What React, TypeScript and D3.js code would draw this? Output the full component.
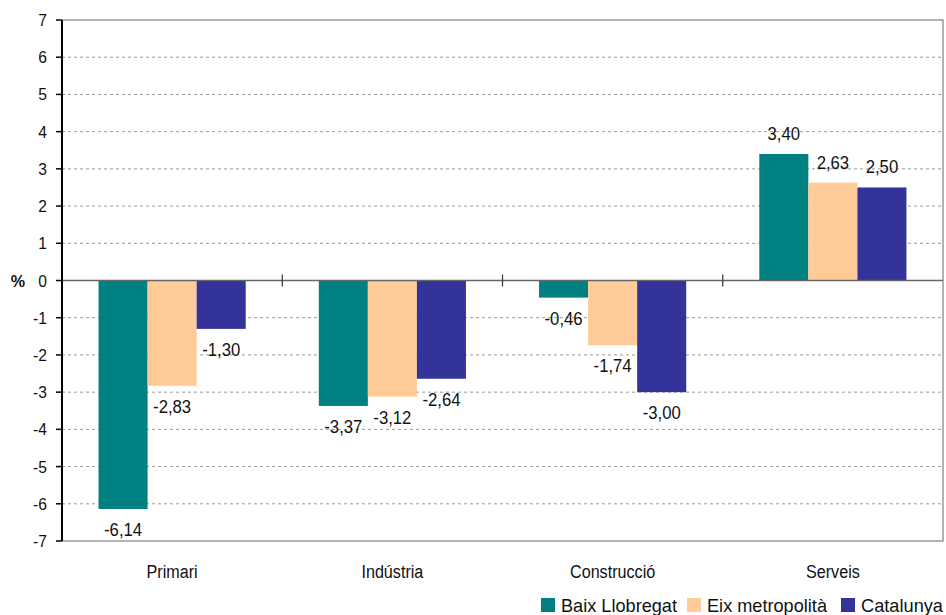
import React, { useEffect, useRef } from 'react';
import * as d3 from 'd3';

const categories = ['Primari', 'Indústria', 'Construcció', 'Serveis'];
const seriesNames = ['Baix Llobregat', 'Eix metropolità', 'Catalunya'];
const baixLlobregat = [-6.14, -3.37, -0.46, 3.4];
const eixMetropolita = [-2.83, -3.12, -1.74, 2.63];
const catalunya = [-1.3, -2.64, -3.0, 2.5];
const yTicks = [-7, -6, -5, -4, -3, -2, -1, 0, 1, 2, 3, 4, 5, 6, 7];
const colors = ['#008080', '#FFCC99', '#333399'];

const FONT = '"Liberation Sans", Arial, sans-serif';

// text squeezed horizontally to mimic a narrow typeface
function narrowText(
  g: d3.Selection<SVGGElement, unknown, null, undefined>,
  x: number, y: number, txt: string, size: number, sx: number,
  anchor = 'middle', weight = 'normal'
) {
  return g.append('text')
    .attr('transform', `translate(${x},${y}) scale(${sx},1)`)
    .attr('text-anchor', anchor)
    .attr('font-family', FONT)
    .attr('font-size', size)
    .attr('font-weight', weight)
    .attr('fill', '#111')
    .text(txt);
}

const App: React.FC = () => {
  const svgRef = useRef<SVGSVGElement>(null);

  useEffect(() => {
    if (!svgRef.current) return;
    const m = { left: 62, right: 943, top: 20, bottom: 541 };

    const svg = d3.select(svgRef.current);
    svg.selectAll('*').remove();
    const root = svg.append('g');

    const x = d3.scaleBand<string>().domain(categories).range([m.left, m.right]);
    const y = d3.scaleLinear().domain([-7, 7]).range([m.bottom, m.top]);
    const inner = d3.scaleBand<number>()
      .domain([0, 1, 2])
      .range([0, x.bandwidth()])
      .paddingOuter(0.745)
      .paddingInner(0);

    const series = [baixLlobregat, eixMetropolita, catalunya];
    const fmt = (v: number) => v.toFixed(2).replace('.', ',');

    // grid
    root.append('g')
      .selectAll('line')
      .data(yTicks.filter(t => t !== 0 && t !== 7 && t !== -7))
      .join('line')
      .attr('x1', m.left)
      .attr('x2', m.right)
      .attr('y1', d => y(d))
      .attr('y2', d => y(d))
      .attr('stroke', '#999')
      .attr('stroke-dasharray', '3,3');

    // frame
    root.append('path')
      .attr('d', `M${m.left},${m.top}H${m.right}V${m.bottom}H${m.left}`)
      .attr('fill', 'none')
      .attr('stroke', '#999')
      .attr('stroke-width', 1.5);

    // bars
    series.forEach((vals, si) => {
      root.append('g')
        .selectAll('rect')
        .data(vals)
        .join('rect')
        .attr('x', (_, i) => x(categories[i])! + inner(si)!)
        .attr('width', inner.bandwidth())
        .attr('y', d => y(Math.max(0, d)))
        .attr('height', d => Math.abs(y(d) - y(0)))
        .attr('fill', colors[si]);
    });

    // zero line with category ticks
    root.append('line')
      .attr('x1', m.left).attr('x2', m.right)
      .attr('y1', y(0)).attr('y2', y(0))
      .attr('stroke', '#666').attr('stroke-width', 1.5);
    root.append('g')
      .selectAll('line')
      .data(categories.slice(1))
      .join('line')
      .attr('x1', d => x(d)!)
      .attr('x2', d => x(d)!)
      .attr('y1', y(0) - 6)
      .attr('y2', y(0) + 6)
      .attr('stroke', '#333')
      .attr('stroke-width', 1.2);

    // value labels
    const lbl = root.append('g');
    series.forEach((vals, si) => {
      vals.forEach((v, i) => {
        const cx = x(categories[i])! + inner(si)! + inner.bandwidth() / 2;
        const ty = v < 0 ? y(v) + 27 : y(v) - 14;
        narrowText(lbl, cx, ty, fmt(v), 19, 0.88);
      });
    });

    // left axis
    const ax = root.append('g');
    ax.append('line')
      .attr('x1', m.left).attr('x2', m.left)
      .attr('y1', m.top).attr('y2', m.bottom)
      .attr('stroke', '#000').attr('stroke-width', 2);
    ax.selectAll('line.tick')
      .data(yTicks)
      .join('line')
      .attr('class', 'tick')
      .attr('x1', m.left - 6).attr('x2', m.left)
      .attr('y1', d => y(d)).attr('y2', d => y(d))
      .attr('stroke', '#000').attr('stroke-width', 1.5);
    yTicks.forEach(t => narrowText(ax, m.left - 15, y(t) + 6, String(t), 17, 0.92, 'end'));

    narrowText(root, 18, y(0) + 6, '%', 17, 0.95, 'middle', 'bold');

    // category labels
    const cat = root.append('g');
    categories.forEach(c => narrowText(cat, x(c)! + x.bandwidth() / 2, 578, c, 19, 0.85));

    // legend
    const legendX = [541, 687, 841];
    const legendW = [116, 120, 82];
    const lg = root.append('g');
    seriesNames.forEach((name, i) => {
      lg.append('rect')
        .attr('x', legendX[i]).attr('y', 598)
        .attr('width', 14).attr('height', 14)
        .attr('fill', colors[i]);
      lg.append('text')
        .attr('x', legendX[i] + 20)
        .attr('y', 612)
        .attr('font-family', FONT)
        .attr('font-size', 19)
        .attr('textLength', legendW[i])
        .attr('lengthAdjust', 'spacingAndGlyphs')
        .attr('fill', '#111')
        .text(name);
    });
  }, []);

  return (
    <svg
      ref={svgRef}
      width={946}
      height={615}
      style={{ position: 'absolute', left: 0, top: 0, background: '#fff' }}
    />
  );
};

export default App;
